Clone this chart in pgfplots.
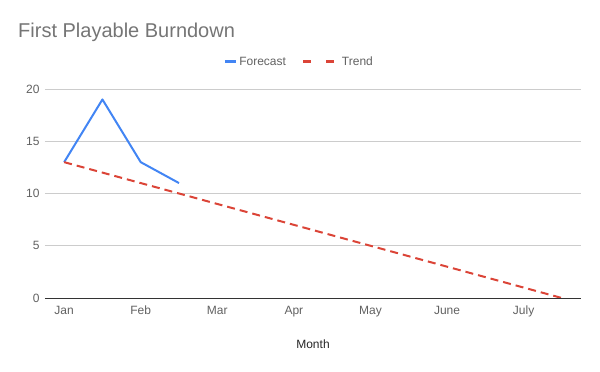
\documentclass[border=0pt]{standalone}
\usepackage{pgfplots}
\pgfplotsset{compat=1.18}
\usepackage{fontspec}
\setmainfont{Liberation Sans}
\definecolor{gblue}{HTML}{4285F4}
\definecolor{gred}{HTML}{DB4437}
\definecolor{ggrid}{HTML}{CCCCCC}
\definecolor{gtick}{HTML}{616161}
\definecolor{gtitle}{HTML}{757575}
\begin{document}
\begin{tikzpicture}[x=1bp,y=1bp]
\useasboundingbox (-45,-73) rectangle (555,298);
\begin{axis}[
  at={(0,0)}, anchor=south west,
  scale only axis, width=536bp, height=209bp,
  xmin=-0.5, xmax=13.5, ymin=0, ymax=20,
  xtick={0,2,4,6,8,10,12},
  xticklabels={Jan,Feb,Mar,Apr,May,June,July},
  ytick={0,5,10,15,20},
  ymajorgrids, grid style={ggrid, line width=0.8bp},
  axis line style={draw=none},
  major tick length=0pt,
  tick label style={font=\fontsize{12bp}{14bp}\selectfont, text=gtick},
  /pgf/number format/assume math mode=true,
  yticklabel style={xshift=-2bp},
  xticklabel style={yshift=-4bp, text height=9bp, text depth=3bp},
  xlabel={Month},
  xlabel style={font=\fontsize{12bp}{14bp}\selectfont, text=black!85, at={(axis description cs:0.5,0)}, anchor=center, yshift=-46bp},
  legend columns=2,
  legend style={draw=none, fill=none, font=\fontsize{12bp}{14bp}\selectfont, text=gtick,
    at={(rel axis cs:0.474,1.13)}, anchor=center,
    /tikz/every even column/.append style={column sep=14bp}},
  clip=false,
]
\addplot[gblue, line width=2bp, line join=round, legend image code/.code={\draw[gblue, line width=3bp] (0bp,0bp) -- (11bp,0bp);}]
  coordinates {(0,13) (1,19) (2,13) (3,11)};
\addlegendentry{Forecast}
\addplot[gred, line width=2bp, dash pattern=on 8bp off 5bp, legend image code/.code={\draw[gred, line width=3bp] (0bp,0bp) -- (12bp,0bp); \draw[gred, line width=3bp] (23bp,0bp) -- (35bp,0bp);}]
  coordinates {(0,13) (13,0)};
\addlegendentry{Trend}
\draw[black!80, line width=1bp] (rel axis cs:0,0) -- (rel axis cs:1,0);
\end{axis}
\node[anchor=base west, text=gtitle, font=\fontsize{20bp}{24bp}\selectfont, inner sep=0pt] at (-27,261) {First Playable Burndown};
\end{tikzpicture}
\end{document}
